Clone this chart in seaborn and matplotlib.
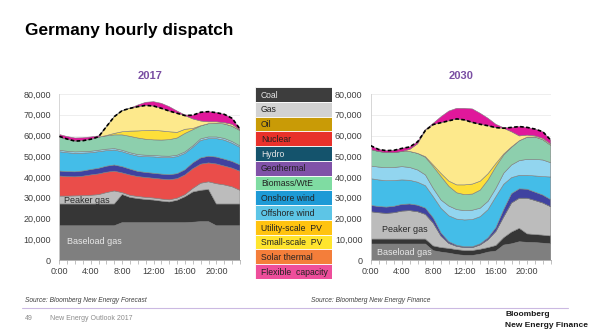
import matplotlib
matplotlib.use("Agg")
import matplotlib.pyplot as plt
import seaborn as sns
from matplotlib.ticker import FuncFormatter, MultipleLocator

# ---------------------------------------------------------------- data (MW)
hours = list(range(24))
hour_labels = ["0:00", "4:00", "8:00", "12:00", "16:00", "20:00"]

baseload_gas_2017 = [16500, 16500, 16500, 16500, 16500, 16500, 16500, 16500, 18000, 18000, 18000, 18000,
                     18000, 18000, 18000, 18000, 18000, 18200, 18500, 18500, 16500, 16500, 16500, 16500]
coal_2017 = [10500, 10500, 10500, 10500, 10500, 10500, 10500, 10500, 13600, 12200, 11600, 11200,
             10900, 10400, 10000, 10800, 12500, 14600, 15100, 15500, 10500, 10500, 10500, 10500]
peaker_gas_2017 = [3800, 3800, 3900, 4000, 4200, 4500, 5500, 6300, 900, 1000, 1000, 1000,
                   1000, 1000, 1000, 1000, 1000, 1700, 3400, 3700, 9800, 9200, 8300, 6600]
nuclear_2017 = [9700, 9400, 9200, 9400, 9800, 10000, 9800, 9500, 9500, 9800, 9600, 9600,
                9500, 9600, 9700, 9400, 9500, 9500, 9200, 9100, 9500, 9100, 9000, 9200]
hydro_2017 = [2400, 2400, 2400, 2500, 2600, 2700, 2900, 3000, 3000, 2800, 2500, 2400,
              2400, 2400, 2400, 2400, 2500, 2800, 3000, 3200, 3300, 3300, 3200, 3000]
onshore_wind_2017 = [9300, 9100, 8900, 8600, 8100, 8000, 7500, 7200, 7200, 7200, 7400, 7600,
                     7900, 8000, 8200, 8200, 7900, 7500, 8400, 8500, 8900, 9200, 8800, 8500]
offshore_wind_2017 = [700, 700, 700, 700, 700, 700, 700, 700, 700, 700, 700, 700,
                      700, 700, 700, 700, 700, 700, 800, 800, 800, 800, 800, 700]
biomass_2017 = [6400, 5800, 5300, 5400, 5800, 6300, 6400, 6600, 7400, 7900, 8000, 7700,
                7500, 7700, 8000, 8300, 8900, 7800, 6200, 6400, 6600, 7000, 7400, 7400]
utility_pv_2017 = [0, 0, 0, 0, 0, 0, 200, 700, 1500, 2500, 3400, 4200,
                   4600, 4400, 3800, 2700, 2000, 600, 100, 0, 0, 0, 0, 0]
small_pv_2017 = [0, 0, 0, 0, 0, 0, 4300, 8100, 10200, 11000, 11700, 12100,
                 11700, 10900, 10000, 9200, 6600, 4600, 2300, 900, 700, 600, 900, 300]
flexible_2017 = [1200, 1300, 1400, 1300, 1100, 600, 0, 0, 0, 0, 800, 1500,
                 2100, 2400, 2100, 1100, 300, 1800, 4200, 4900, 4400, 4000, 2900, 400]
demand_2017 = [59600, 58300, 57300, 57500, 58200, 59400, 64300, 69100, 72000, 73100, 73900, 74500,
               74200, 73100, 71800, 70700, 69600, 69800, 71200, 71500, 71000, 70200, 68300, 63100]

baseload_gas_2030 = [7700, 7700, 7700, 7700, 7700, 7700, 7700, 7700, 4500, 3800, 3300, 2600,
                     2200, 2200, 2800, 3800, 4300, 7200, 7800, 8800, 8500, 8400, 8100, 7800]
coal_2030 = [2400, 2400, 2400, 2400, 2400, 2400, 2400, 2400, 2300, 2200, 2300, 2400,
             2400, 2400, 2400, 2200, 2700, 3600, 5700, 6500, 4100, 3900, 3900, 3800]
peaker_gas_2030 = [13200, 12700, 12400, 12700, 13500, 13700, 13200, 11900, 11000, 5500, 2400, 1600,
                   1400, 1400, 2100, 3800, 6800, 10000, 14000, 14500, 17200, 16400, 15500, 14100]
nuclear_2030 = [0, 0, 0, 0, 0, 0, 0, 0, 0, 0, 0, 0,
                0, 0, 0, 0, 0, 0, 0, 0, 0, 0, 0, 0]
hydro_2030 = [3000, 3000, 3000, 3100, 3200, 3200, 3100, 3000, 2500, 1500, 800, 500,
              400, 400, 500, 900, 1800, 3500, 4500, 4500, 4300, 4000, 3800, 3400]
onshore_wind_2030 = [12900, 12800, 12700, 12400, 11800, 11400, 11100, 10800, 10200, 11900, 12500, 12600,
                     12900, 13100, 13100, 13600, 14900, 12200, 7700, 6500, 6700, 7800, 8900, 10900]
offshore_wind_2030 = [6100, 6200, 6300, 6300, 6400, 6200, 5900, 5200, 4000, 4000, 4700, 4600,
                      4500, 4500, 4100, 4000, 4000, 5300, 6100, 7100, 7700, 8000, 8000, 6900]
biomass_2030 = [8000, 7500, 7300, 7200, 7300, 7700, 8000, 8500, 10500, 11300, 9500, 8100,
                7700, 7800, 8700, 10300, 10500, 8800, 8500, 9600, 10700, 10800, 9800, 8400]
utility_pv_2030 = [0, 0, 0, 0, 0, 0, 0, 300, 800, 1500, 2500, 3800,
                   4700, 4800, 4300, 3000, 1500, 500, 200, 0, 0, 0, 0, 0]
small_pv_2030 = [0, 0, 0, 0, 0, 1000, 4600, 12700, 19500, 24500, 29100, 31800,
                 31300, 29700, 27400, 23100, 17300, 12400, 7300, 2300, 1000, 500, 600, 600]
flexible_2030 = [1800, 1000, 900, 1100, 1500, 1200, 1000, 300, 600, 2900, 4700, 5100,
                 5600, 6500, 5300, 3600, 1600, 200, 2100, 4500, 3700, 3300, 3200, 1900]
demand_2030 = [55100, 53300, 52700, 52900, 53800, 54500, 57000, 62500, 65300, 66200, 67100, 68000,
               67500, 66300, 65400, 64700, 63800, 63500, 63900, 64300, 63900, 63100, 61800, 57800]

# fill colours of the stacked layers, bottom to top
layer_colors = ["#7f7f7f", "#363636", "#bcbcbc", "#ea4d4a", "#3f42a0", "#44bde8",
                "#92d5ef", "#8dcfad", "#fddf3a", "#fde98c", "#e0189b"]
# thin outline drawn along the top of each layer
layer_edges = ["#7f7f7f", "#363636", "#b0b0b0", "#ea4d4a", "#3f42a0", "#44bde8",
               "#a6dcf0", "#b4c6a6", "#c9c38a", "#fde98c", "#e0189b"]

legend_labels = ["Coal", "Gas", "Oil", "Nuclear", "Hydro", "Geothermal", "Biomass/WtE",
                 "Onshore wind", "Offshore wind", "Utility-scale  PV", "Small-scale  PV",
                 "Solar thermal", "Flexible  capacity"]
legend_colors = ["#3d3d3d", "#d2d2d2", "#c99b06", "#e8312b", "#14536c", "#8052a8", "#7fdca2",
                 "#1d9ad6", "#5dc5e6", "#ffc310", "#ffe52e", "#f47e3a", "#ee4e9b"]
legend_text_colors = ["#e6e6e6", "#222222", "#222222", "#222222", "#e6e6e6", "#222222", "#222222",
                      "#222222", "#222222", "#222222", "#222222", "#222222", "#222222"]

# ---------------------------------------------------------------- style
sns.set_theme(style="white")
plt.rcParams["font.family"] = ["Liberation Sans", "DejaVu Sans"]

W, H = 590, 332
fig = plt.figure(figsize=(W / 100, H / 100), dpi=100)


def px_box(x0, y0, x1, y1):
    """Axes rectangle from pixel edges (top-left origin)."""
    return [x0 / W, 1 - y1 / H, (x1 - x0) / W, (y1 - y0) / H]


def draw_panel(ax, title, layers, demand, peaker_xy, baseload_xy):
    ax.stackplot(hours, *layers, colors=layer_colors, linewidth=0.4,
                 edgecolors=layer_edges, zorder=2)
    sns.lineplot(x=hours, y=demand, ax=ax, color="black", linewidth=1.2,
                 linestyle=(0, (2.2, 1.4)), zorder=4)
    ax.set_xlim(0, 23)
    ax.set_ylim(0, 80000)
    ax.set_xticks(range(0, 24, 4))
    ax.set_xticklabels(hour_labels)
    ax.xaxis.set_minor_locator(MultipleLocator(1))
    ax.yaxis.set_major_locator(MultipleLocator(10000))
    ax.yaxis.set_major_formatter(FuncFormatter(lambda v, _: f"{v:,.0f}"))
    ax.tick_params(axis="x", which="both", bottom=True, direction="out", length=3,
                   width=0.5, color="#a6a6a6", labelsize=6.5, labelcolor="#404040", pad=2)
    ax.tick_params(axis="y", length=0, labelsize=6.5, labelcolor="#404040", pad=6)
    ax.yaxis.grid(True, color="#ebebeb", linewidth=0.6)
    ax.set_axisbelow(True)
    for side in ("top", "right"):
        ax.spines[side].set_visible(False)
    ax.spines["left"].set_color("#d0d0d0")
    ax.spines["left"].set_linewidth(0.6)
    ax.spines["bottom"].set_color("#a6a6a6")
    ax.spines["bottom"].set_linewidth(0.6)
    ax.set_xlabel("")
    ax.set_ylabel("")
    ax.set_title(title, color="#7a4ea3", fontsize=8, fontweight="bold", pad=11)
    ax.text(*peaker_xy, "Peaker gas", fontsize=6.5, color="#2a2a2a", va="center", zorder=5)
    ax.text(*baseload_xy, "Baseload gas", fontsize=6.5, color="#e8e8e8", va="center", zorder=5)


layers_2017 = [baseload_gas_2017, coal_2017, peaker_gas_2017, nuclear_2017, hydro_2017,
               onshore_wind_2017, offshore_wind_2017, biomass_2017, utility_pv_2017,
               small_pv_2017, flexible_2017]
layers_2030 = [baseload_gas_2030, coal_2030, peaker_gas_2030, nuclear_2030, hydro_2030,
               onshore_wind_2030, offshore_wind_2030, biomass_2030, utility_pv_2030,
               small_pv_2030, flexible_2030]

ax17 = fig.add_axes(px_box(59.3, 94, 240, 260))
draw_panel(ax17, "2017", layers_2017, demand_2017, (0.6, 28900), (1.0, 8800))

ax30 = fig.add_axes(px_box(370.7, 94, 550.7, 260))
draw_panel(ax30, "2030", layers_2030, demand_2030, (1.4, 14500), (0.8, 3700))

# legend column between the panels
axl = fig.add_axes(px_box(255, 87, 332, 279))
n = len(legend_labels)
axl.barh(range(n), [1] * n, height=1, left=0, color=legend_colors,
         edgecolor="white", linewidth=0.6)
axl.set_xlim(0, 1)
axl.set_ylim(n - 0.5, -0.5)
axl.axis("off")
for i, (lab, tc) in enumerate(zip(legend_labels, legend_text_colors)):
    axl.text(0.075, i + 0.05, lab, fontsize=6.2, color=tc, va="center", ha="left")

# page furniture
fig.text(25 / W, 1 - 30 / H, "Germany hourly dispatch", fontsize=12.4, fontweight="bold",
         color="black", va="center", ha="left")
fig.text(25 / W, 1 - 300 / H, "Source: Bloomberg New Energy Forecast", fontsize=4.8,
         style="italic", color="#404040", va="center")
fig.text(311 / W, 1 - 300 / H, "Source: Bloomberg New Energy Finance", fontsize=4.8,
         style="italic", color="#404040", va="center")
fig.add_artist(plt.Line2D([22 / W, 568 / W], [1 - 307.5 / H, 1 - 307.5 / H],
                          color="#cbb9e2", linewidth=0.8))
fig.text(25 / W, 1 - 319 / H, "49", fontsize=5, color="#8c8c8c", va="center")
fig.text(50 / W, 1 - 319 / H, "New Energy Outlook 2017", fontsize=5, color="#8c8c8c", va="center")
fig.text(505 / W, 1 - 315 / H, "Bloomberg", fontsize=6, fontweight="bold", color="#1a1a1a", va="center")
fig.text(505 / W, 1 - 325.5 / H, "New Energy Finance", fontsize=6, fontweight="bold",
         color="#1a1a1a", va="center")

fig.savefig("out.png", dpi=100, facecolor="white")
